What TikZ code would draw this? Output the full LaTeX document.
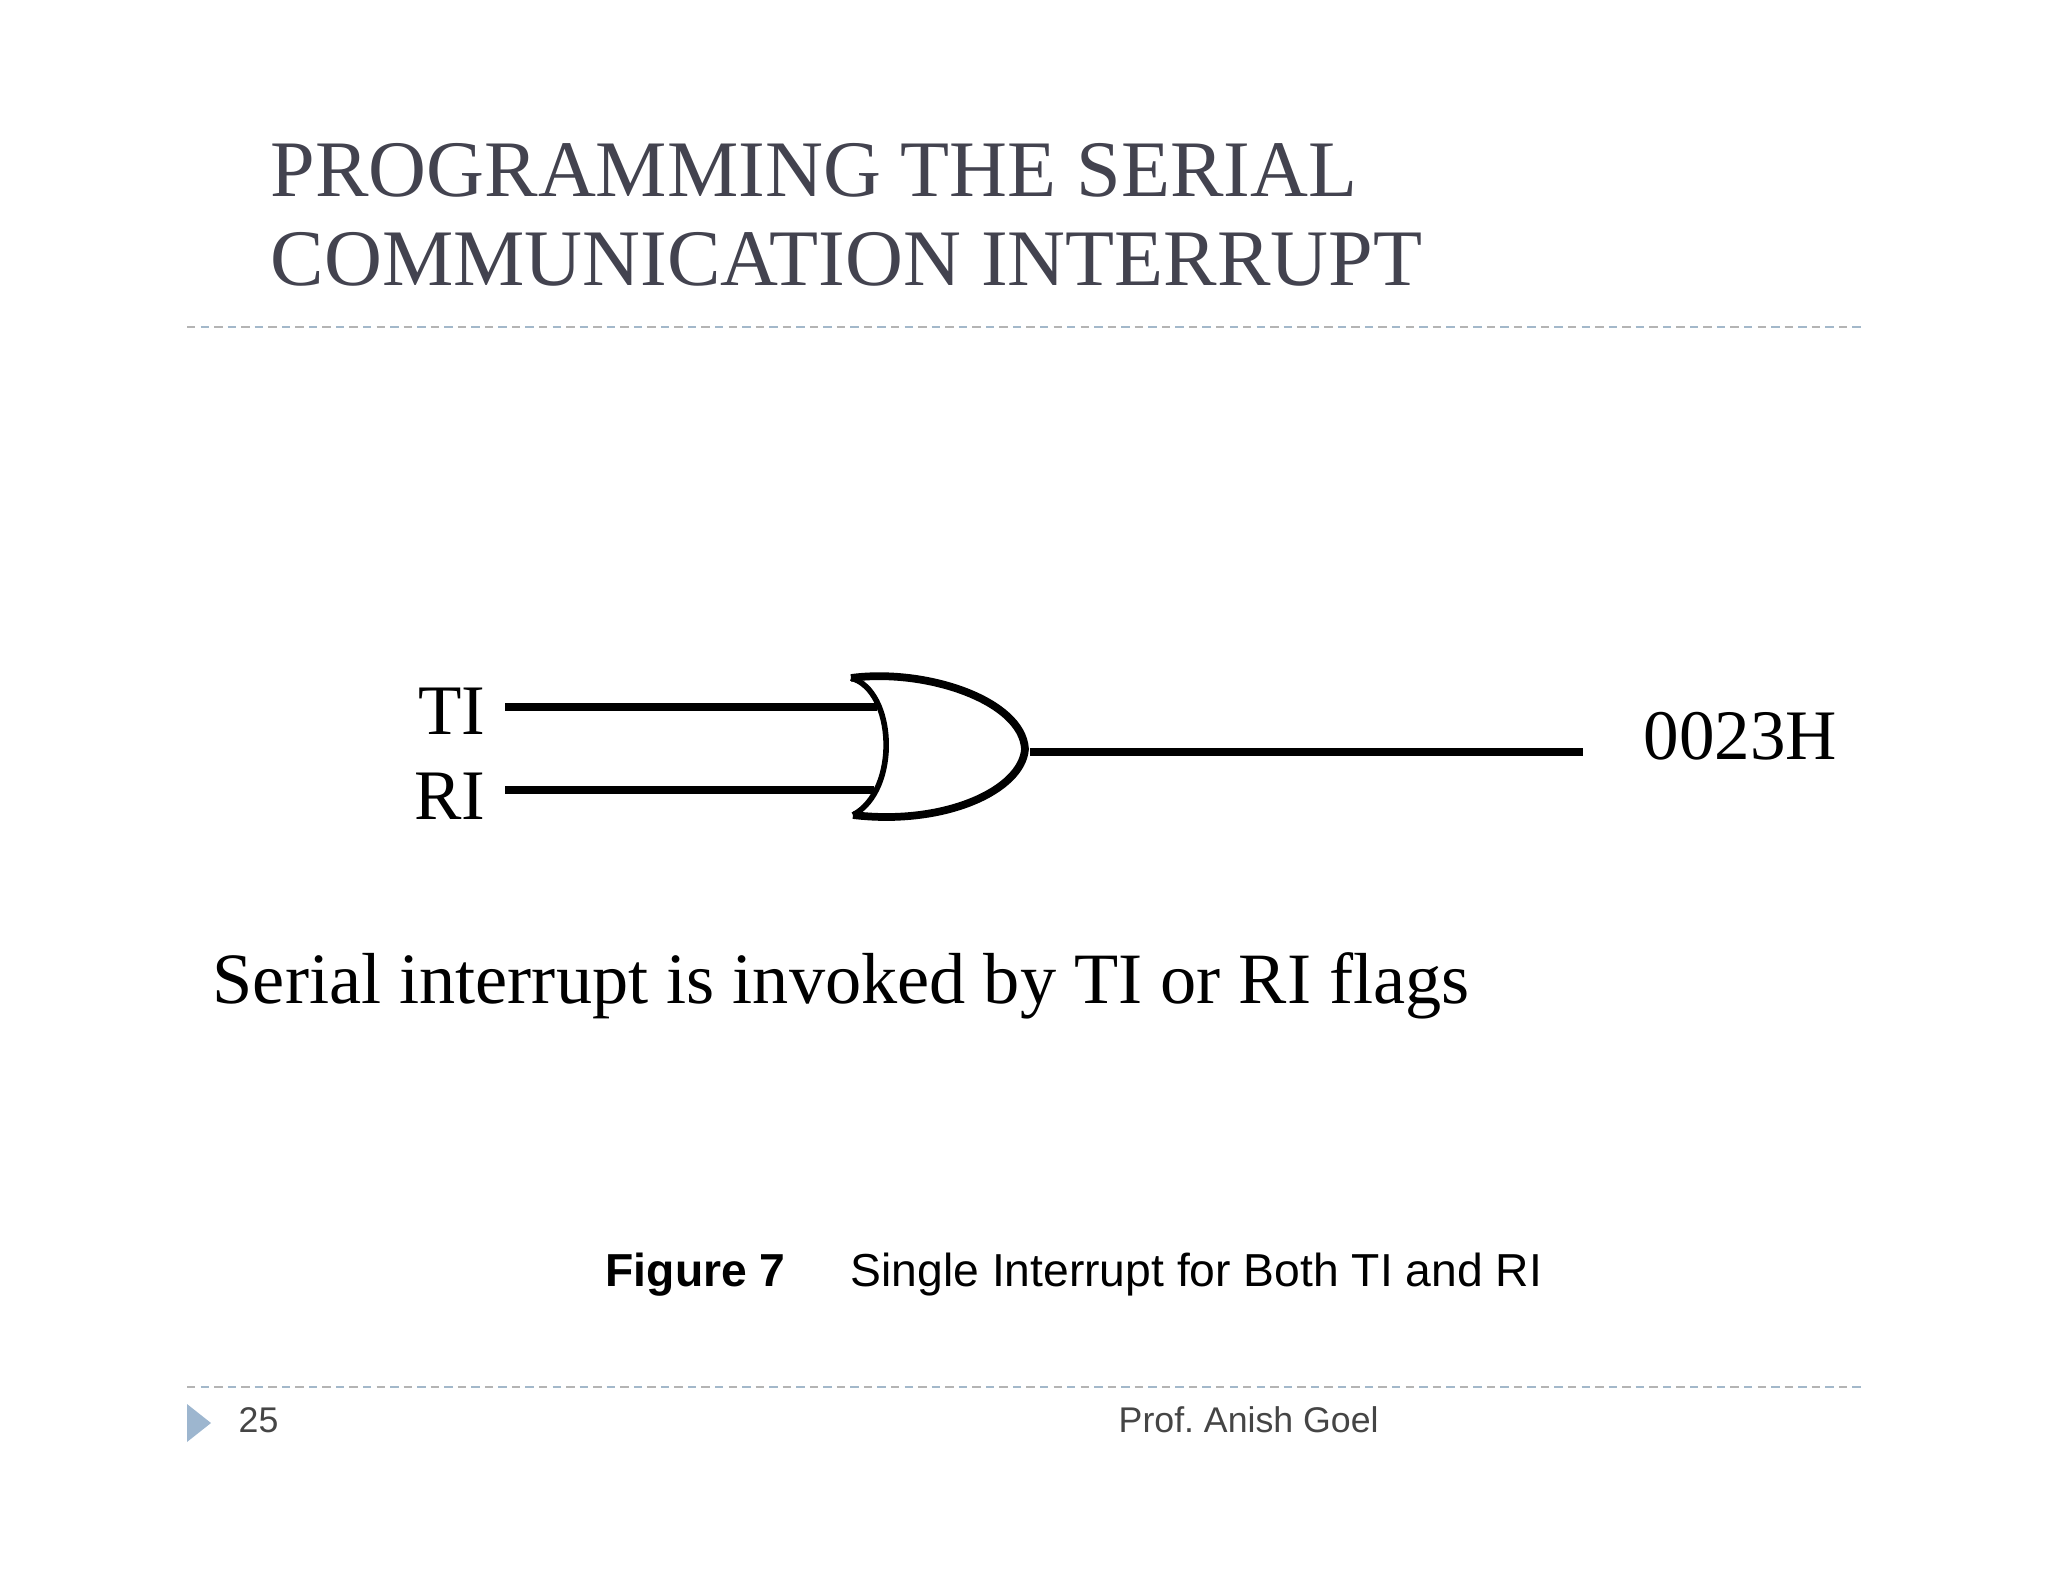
\documentclass[tikz,border=0pt]{standalone}
\usepackage{fontspec}
\setmainfont{Liberation Serif}
\newfontfamily\arialfont{Liberation Sans}
\definecolor{titlegray}{HTML}{43434F}
\definecolor{footgray}{HTML}{454545}
\definecolor{dashblue}{HTML}{A3B8CA}
\definecolor{dashgray}{HTML}{B4B4B4}
\definecolor{markblue}{HTML}{9DB6CF}
\tikzset{
    title/.style={anchor=base west, inner sep=0pt, text=titlegray, font=\fontsize{22.8}{25}\selectfont},
    gatelabel/.style={anchor=base east, inner sep=0pt, font=\fontsize{20.2}{21}\selectfont},
    wire/.style={line width=2pt},
    sepgray/.style={dashgray, line width=0.5pt, dash pattern=on 2.4pt off 5.3pt},
    sepblue/.style={dashblue, line width=0.5pt, dash pattern=on 2.4pt off 5.3pt, dash phase=3.85pt},
    foot/.style={anchor=base west, inner sep=0pt, text=footgray, font=\arialfont\fontsize{10.15}{11}\selectfont},
    caption/.style={anchor=base west, inner sep=0pt, font=\arialfont\fontsize{13.15}{14}\selectfont}
}
\frenchspacing
\begin{document}
\begin{tikzpicture}[x=0.01cm, y=-0.01cm]
    \useasboundingbox (0, 0) rectangle (2048, 1582);

    \node[title] (t1) at (270, 196) {PROGRAMMING THE SERIAL};
    \node[title] (t2) at (270, 285) {COMMUNICATION INTERRUPT};

    \coordinate (s1a) at (187, 327);
    \coordinate (s1b) at (1864, 327);
    \coordinate (s2a) at (187, 1387);
    \coordinate (s2b) at (1864, 1387);
    \draw[sepgray] (s1a) -- (s1b);
    \draw[sepblue] (s1a) -- (s1b);
    \draw[sepgray] (s2a) -- (s2b);
    \draw[sepblue] (s2a) -- (s2b);

    \node[gatelabel] (ti) at (486, 734) {TI};
    \node[gatelabel] (ri) at (486, 819) {RI};
    \node[gatelabel, anchor=base west] (vec) at (1643, 759) {0023H};

    % gate outline
    \draw[wire, line width=2.2pt]
    (851, 678) .. controls (925, 668) and (1022, 700) .. (1025, 749)
    .. controls (1022, 790) and (945, 826) .. (853, 815);
    \draw[wire, line width=1.6pt]
    (851, 678) .. controls (895, 690) and (900, 790) .. (853, 815);
    \coordinate (tistart) at (505, 707);
    \coordinate (tiend) at (877, 707);
    \coordinate (ristart) at (505, 790);
    \coordinate (riend) at (874, 790);
    \coordinate (outstart) at (1030, 752);
    \coordinate (outend) at (1583, 752);
    \draw[wire]
    (tistart) -- (tiend)
    (ristart) -- (riend)
    (outstart) -- (outend);

    \node[gatelabel, anchor=base west, font=\fontsize{20.56}{21}\selectfont] (inv) at (212, 1003) {Serial interrupt is invoked by TI or RI flags};

    \node[caption, font=\arialfont\bfseries\fontsize{13.15}{14}\selectfont] (fig) at (605, 1286) {Figure 7};
    \node[caption] (cap) at (850, 1286) {Single Interrupt for Both TI and RI};

    \fill[markblue] (187, 1404) -- (211, 1423) -- (187, 1442) -- cycle;
    \node[foot] (num) at (238, 1432) {25};
    \node[foot] (prof) at (1118, 1432) {Prof. Anish Goel};
\end{tikzpicture}
\end{document}
